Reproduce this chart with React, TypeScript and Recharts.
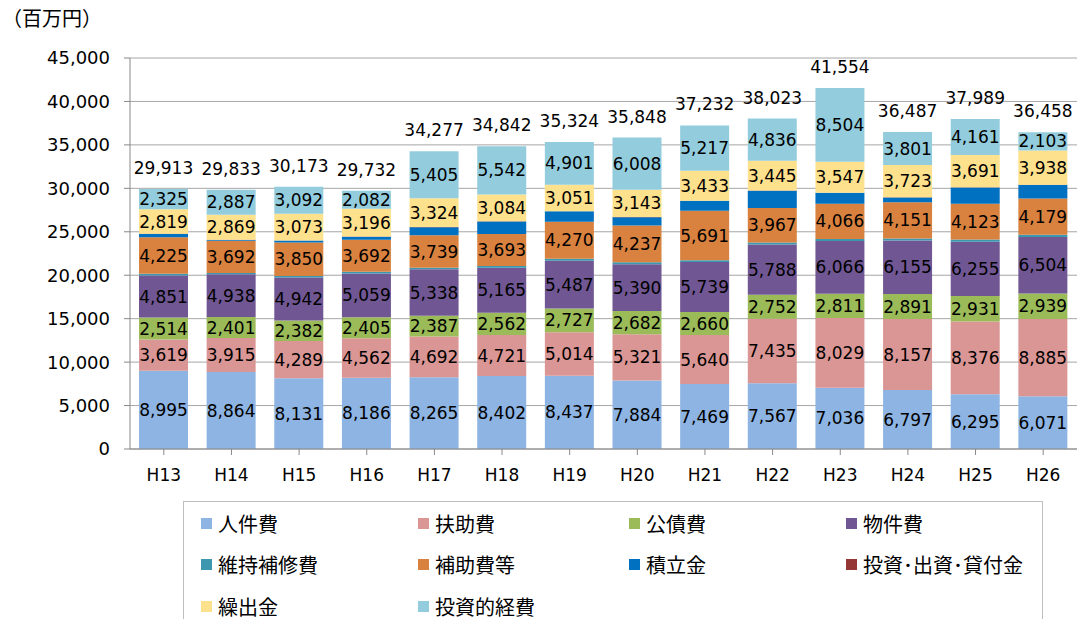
import { BarChart, Bar, XAxis, YAxis, CartesianGrid, LabelList } from "recharts"

const years = ["H13", "H14", "H15", "H16", "H17", "H18", "H19", "H20", "H21", "H22", "H23", "H24", "H25", "H26"]

const jinkenhi = [8995, 8864, 8131, 8186, 8265, 8402, 8437, 7884, 7469, 7567, 7036, 6797, 6295, 6071]
const fujohi = [3619, 3915, 4289, 4562, 4692, 4721, 5014, 5321, 5640, 7435, 8029, 8157, 8376, 8885]
const kosaihi = [2514, 2401, 2382, 2405, 2387, 2562, 2727, 2682, 2660, 2752, 2811, 2891, 2931, 2939]
const bukkenhi = [4851, 4938, 4942, 5059, 5338, 5165, 5487, 5390, 5739, 5788, 6066, 6155, 6255, 6504]
const ijihoshuhi = [180, 150, 170, 180, 180, 200, 220, 220, 220, 230, 230, 240, 250, 250]
const hojohito = [4225, 3692, 3850, 3692, 3739, 3693, 4270, 4237, 5691, 3967, 4066, 4151, 4123, 4179]
const tsumitatekin = [365, 100, 230, 350, 930, 1450, 1200, 940, 1140, 1980, 1240, 550, 1880, 1560]
const toshikashitsuke = [20, 17, 14, 20, 17, 23, 17, 23, 23, 23, 25, 22, 27, 29]
const kuridashikin = [2819, 2869, 3073, 3196, 3324, 3084, 3051, 3143, 3433, 3445, 3547, 3723, 3691, 3938]
const toshitekikeihi = [2325, 2887, 3092, 2082, 5405, 5542, 4901, 6008, 5217, 4836, 8504, 3801, 4161, 2103]
const totals = [29913, 29833, 30173, 29732, 34277, 34842, 35324, 35848, 37232, 38023, 41554, 36487, 37989, 36458]

const yTicks = [0, 5000, 10000, 15000, 20000, 25000, 30000, 35000, 40000, 45000]

const series = [
  { key: "jinkenhi", name: "人件費", values: jinkenhi, color: "#8DB4E2", label: true },
  { key: "fujohi", name: "扶助費", values: fujohi, color: "#DA9694", label: true },
  { key: "kosaihi", name: "公債費", values: kosaihi, color: "#9BBB59", label: true },
  { key: "bukkenhi", name: "物件費", values: bukkenhi, color: "#705793", label: true },
  { key: "ijihoshuhi", name: "維持補修費", values: ijihoshuhi, color: "#3D97AF", label: false },
  { key: "hojohito", name: "補助費等", values: hojohito, color: "#D9823F", label: true },
  { key: "tsumitatekin", name: "積立金", values: tsumitatekin, color: "#0070C0", label: false },
  { key: "toshikashitsuke", name: "投資･出資･貸付金", values: toshikashitsuke, color: "#953735", label: false },
  { key: "kuridashikin", name: "繰出金", values: kuridashikin, color: "#FEE18C", label: true },
  { key: "toshitekikeihi", name: "投資的経費", values: toshitekikeihi, color: "#93CDDD", label: true },
]

const data = years.map((y, i) => {
  const row: Record<string, string | number> = { year: y, total: totals[i] }
  series.forEach((s) => {
    row[s.key] = s.values[i]
  })
  return row
})

const numFont = "'DejaVu Sans', sans-serif"
const jpFont = "'Noto Sans CJK JP', sans-serif"
const fmt = (v: number) => v.toLocaleString("en-US")

function TotalLabel(props: any) {
  const { x, y, width, index } = props
  return (
    <text
      x={x + width / 2}
      y={y - 21}
      textAnchor="middle"
      dominantBaseline="central"
      fontSize={17}
      fontFamily={numFont}
      fill="#000"
    >
      {fmt(totals[index])}
    </text>
  )
}

// legend box sits below the plot, drawn as plain html
function LegendBox() {
  const cols = [200, 417, 628, 845]
  const rows = [522, 563, 605]
  return (
    <div
      style={{
        position: "absolute",
        left: 183,
        top: 501,
        width: 860,
        height: 130,
        border: "1px solid #bfbfbf",
        boxSizing: "border-box",
      }}
    >
      {series.map((s, i) => {
        const left = cols[i % 4] - 183
        const top = rows[Math.floor(i / 4)] - 501
        return (
          <div
            key={s.key}
            style={{
              position: "absolute",
              left,
              top: top - 12,
              height: 24,
              display: "flex",
              alignItems: "center",
              whiteSpace: "nowrap",
              fontFamily: jpFont,
              fontSize: 20,
              color: "#000",
            }}
          >
            <span style={{ width: 11, height: 11, background: s.color, marginRight: 6, display: "inline-block" }} />
            {s.name}
          </div>
        )
      })}
    </div>
  )
}

export default function App() {
  return (
    <div style={{ position: "absolute", left: 0, top: 0, width: 1079, height: 619, background: "#fff", overflow: "hidden" }}>
      <div
        style={{
          position: "absolute",
          left: 2,
          top: 3,
          fontFamily: jpFont,
          fontSize: 20,
          lineHeight: "30px",
          color: "#000",
        }}
      >
        （百万円）
      </div>
      <BarChart
        width={1079}
        height={619}
        data={data}
        margin={{ top: 58, right: 2, left: 0, bottom: 130 }}
        barSize={49}
      >
        <CartesianGrid vertical={false} stroke="#a6a6a6" />
        <XAxis
          dataKey="year"
          height={40}
          stroke="#888"
          tickSize={6}
          tickMargin={14}
          tick={{ fontSize: 17, fontFamily: numFont, fill: "#000" }}
        />
        <YAxis
          width={130}
          domain={[0, 45000]}
          ticks={yTicks}
          interval={0}
          stroke="#888"
          tickSize={6}
          tickMargin={14}
          tickFormatter={fmt}
          tick={{ fontSize: 18, fontFamily: numFont, fill: "#000" }}
        />
        {series.map((s, i) => (
          <Bar key={s.key} dataKey={s.key} name={s.name} stackId="a" fill={s.color} isAnimationActive={false}>
            {s.label && (
              <LabelList
                dataKey={s.key}
                position="center"
                formatter={(v: any) => fmt(Number(v))}
                style={{ fontSize: 17, fontFamily: numFont, fill: "#000" }}
              />
            )}
            {i === series.length - 1 && <LabelList dataKey="total" content={TotalLabel} />}
          </Bar>
        ))}
      </BarChart>
      <LegendBox />
    </div>
  )
}
